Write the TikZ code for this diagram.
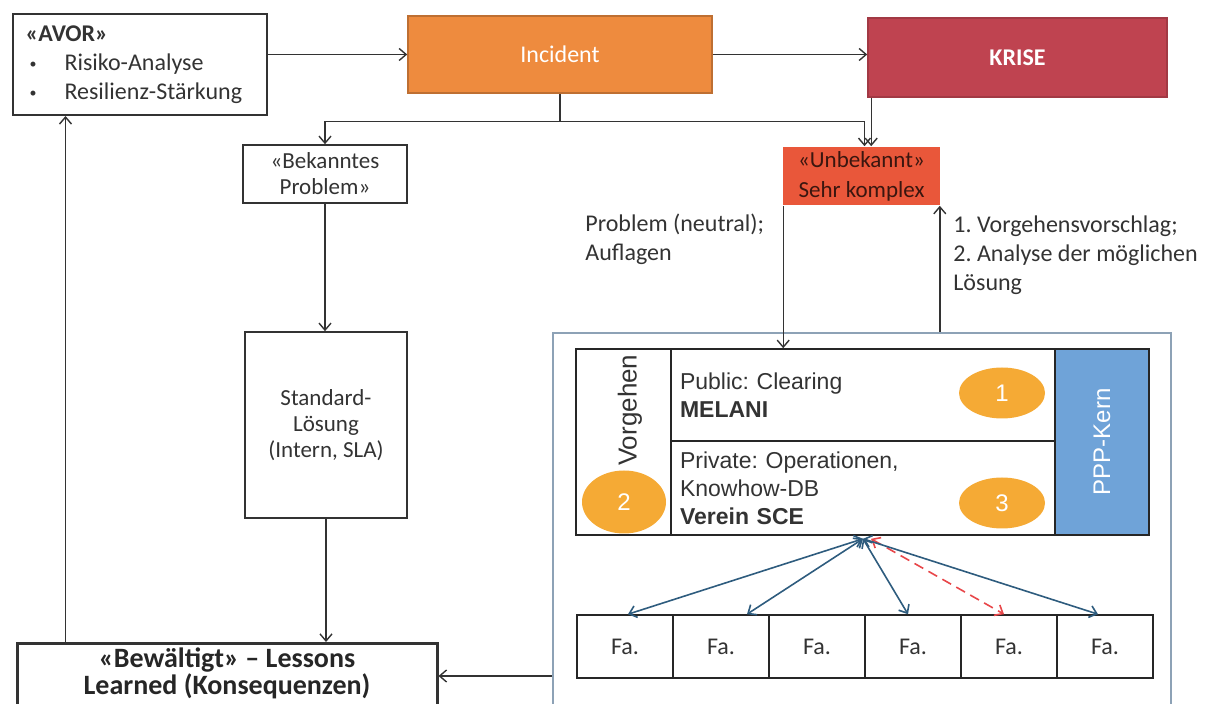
\documentclass[tikz,border=0pt]{standalone}
\usepackage{fontspec}
\setmainfont{Carlito}
\newfontfamily\arialfont{Liberation Sans}
\usetikzlibrary{positioning,calc,arrows.meta,shapes.geometric}
\frenchspacing
\definecolor{TextGray}{HTML}{333333}
\definecolor{IncOrange}{HTML}{EE8B3E}
\definecolor{KriseRed}{HTML}{BF4350}
\definecolor{UnbekRed}{HTML}{E9573A}
\definecolor{DotOrange}{HTML}{F5AA35}
\definecolor{PPPBlue}{HTML}{6FA3D8}
\definecolor{FrameBlue}{HTML}{8DA2B6}
\definecolor{ArrowBlue}{HTML}{2E5C7E}
\definecolor{DashRed}{HTML}{E8474A}
\tikzset{
    flowbox/.style={draw=black!80, line width=0.8pt, text=TextGray, align=center,
        inner sep=2pt, font=\fontsize{11.5}{13}\selectfont},
    cell/.style={draw=black!85, line width=0.8pt, text=TextGray, inner sep=0pt,
        font=\arialfont\fontsize{11.5}{14}\selectfont},
    numdot/.style={ellipse, fill=DotOrange, text=white, inner sep=0pt,
        font=\arialfont\fontsize{12}{14}\selectfont},
    fabox/.style={draw=black!85, line width=0.8pt, text=TextGray, minimum width=48pt,
        minimum height=31.5pt, inner sep=0pt, font=\fontsize{12}{14}\selectfont},
    farrow/.style={<->, draw=ArrowBlue, line width=0.8pt}
}
\newcommand{\avorbullet}{\hspace*{2pt}\makebox[17.5pt][l]{\raisebox{1pt}{\scriptsize\textbullet}}}
\begin{document}
\begin{tikzpicture}[x=0.5pt, y=-0.5pt,
        >={Straight Barb[length=3.5pt,width=6pt]},
        note/.style={text=TextGray, align=left, inner sep=0pt,
            font=\fontsize{12}{14.5}\selectfont},
        flowline/.style={draw=black!80, line width=0.7pt}
    ]
    \useasboundingbox (0,0) rectangle (1209,704);

    % obere Reihe
    \node[flowbox, line width=1pt, align=left, inner xsep=6.5pt, text width=114pt,
        minimum height=50.5pt, font=\fontsize{12}{14.5}\selectfont] (avor) at (139.5,64.5)
        {\textbf{«AVOR»}\\
         \avorbullet Risiko-Analyse\\
         \avorbullet Resilienz-Stärkung};
    \node[flowbox, fill=IncOrange, draw=IncOrange!80!black, text=white,
        minimum width=152pt, minimum height=38.5pt, font=\fontsize{12}{14}\selectfont]
        (incident) at (560,54.5) {Incident};
    \node[flowbox, fill=KriseRed, draw=KriseRed!85!black, text=white,
        minimum width=149.5pt, minimum height=39.5pt, font=\bfseries\fontsize{12}{14}\selectfont]
        (krise) at (1017.5,57.5) {KRISE};

    % linker Zweig
    \node[flowbox, minimum width=82pt, minimum height=29pt] (bekannt) at (325,174)
        {«Bekanntes\\Problem»};
    \node[flowbox, minimum width=81pt, minimum height=93pt] (standard) at (326,425)
        {Standard-\\Lösung\\(Intern, SLA)};
    \node[flowbox, line width=1.5pt, text=black!85, anchor=north, inner ysep=2pt,
        text depth=12pt, minimum width=210pt, font=\bfseries\fontsize{14}{13.5}\selectfont]
        (bewaeltigt) at (227,642) {«Bewältigt» – Lessons\\Learned (Konsequenzen)};

    % rechter Zweig
    \node[flowbox, fill=UnbekRed, draw=none, text=black!75!UnbekRed,
        minimum width=78.5pt, minimum height=29pt, font=\fontsize{11.5}{15}\selectfont]
        (unbekannt) at (861.5,176) {«Unbekannt»\\Sehr komplex};
    \node[note, anchor=north west] (problabel) at (585,214)
        {Problem (neutral);\\Auflagen};
    \node[note, anchor=north west] (vorschlag) at (953,215)
        {1. Vorgehensvorschlag;\\2. Analyse der möglichen\\Lösung};

    % PPP-Rahmen
    \node[draw=FrameBlue, line width=1.2pt, minimum width=309pt, minimum height=210pt]
        (frame) at (862,543) {};
    \node[cell, minimum width=47.5pt, minimum height=93pt] (vorgehen) at (623.5,442) {};
    \node[cell, align=left, inner xsep=4.5pt, text width=183pt, minimum height=46pt]
        (public) at (863,395) {Public: Clearing\\\textbf{MELANI}};
    \node[cell, align=left, inner xsep=4.5pt, text width=183pt, minimum height=47pt]
        (private) at (863,488) {Private: Operationen,\\Knowhow-DB\\\textbf{Verein SCE}};
    \node[cell, fill=PPPBlue, text=white, rotate=90, minimum width=93pt, minimum height=47pt,
        font=\arialfont\fontsize{12}{14}\selectfont] (ppp) at (1102,442) {PPP-Kern};
    \node[rotate=90, anchor=east, inner sep=0pt, text=TextGray,
        font=\arialfont\fontsize{13}{15}\selectfont] (vorgtext)
        at ([xshift=3.25pt, yshift=-3pt]vorgehen.north) {Vorgehen};

    % Nummern
    \node[numdot, minimum width=43pt, minimum height=25.5pt] (n1) at (1002,393) {1};
    \node[numdot, minimum width=42pt, minimum height=31.5pt] (n2) at (624,502) {2};
    \node[numdot, minimum width=43pt, minimum height=25.5pt] (n3) at (1002,503) {3};

    % Firmen
    \foreach \i in {1,...,6}
        \node[fabox] (fa\i) at ({529+96*\i},646.5) {Fa.};

    % Verbindungen oben
    \draw[flowline, ->] (avor.east |- incident.west) -- (incident.west);
    \draw[flowline, ->] (incident.east) -- (incident.east -| krise.west);
    \coordinate (split) at ($(incident.south)+(0,28)$);
    \coordinate (unbin) at ([xshift=1.5pt]unbekannt.north);
    \coordinate (krisedown) at ([xshift=2pt]krise.south west);
    \draw[flowline] (incident.south) -- (split);
    \draw[flowline, ->] (split) -| (bekannt.north);
    \draw[flowline, ->] (split) -| (unbin);
    \draw[flowline, ->] (krisedown) -- (krisedown |- unbekannt.north);

    % Verbindungen links
    \draw[flowline, ->] (bekannt.south) -- (bekannt.south |- standard.north);
    \draw[flowline, ->] (standard.south) -- (standard.south |- bewaeltigt.north);
    \coordinate (lessonsup) at ([xshift=25pt]bewaeltigt.north west);
    \draw[flowline, ->] (lessonsup) -- (lessonsup |- avor.south);
    \coordinate (lessonsin) at ([yshift=-17pt]bewaeltigt.north east);
    \draw[flowline, ->] (lessonsin -| frame.west) -- (lessonsin);

    % Verbindungen rechts
    \coordinate (downstart) at ([xshift=0.5pt]unbekannt.south west);
    \coordinate (upend) at ([xshift=-0.5pt]unbekannt.south east);
    \draw[flowline, ->] (downstart) -- (downstart |- public.north);
    \draw[flowline, ->] (upend |- frame.north) -- (upend);

    % Stern zu den Firmen
    \coordinate (hub) at ([yshift=-1.5pt]private.south);
    \draw[farrow] (hub) -- ([xshift=1.5pt]fa1.north);
    \draw[farrow] (hub) -- ([xshift=13pt]fa2.north);
    \draw[farrow] (hub) -- ([xshift=-2.5pt]fa4.north);
    \draw[farrow, draw=DashRed, dash pattern=on 5pt off 3pt] ([xshift=4pt]hub) -- ([xshift=-2.5pt]fa5.north);
    \draw[farrow] (hub) -- ([xshift=-3.5pt]fa6.north);
\end{tikzpicture}
\end{document}
